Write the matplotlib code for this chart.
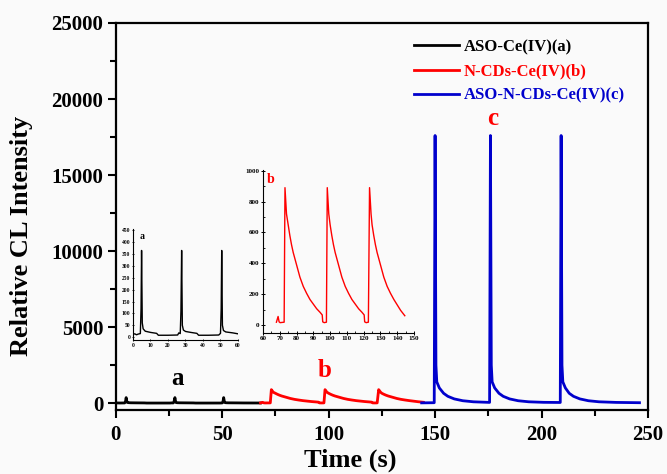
import numpy as np
import matplotlib.pyplot as plt

plt.rcParams['font.family'] = 'Liberation Serif'
plt.rcParams['font.weight'] = 'bold'

# ASO-Ce(IV) (a): time (s), intensity
t_a = [0, 1, 2, 3, 4.2, 4.6, 4.9, 5.3, 5.8, 7, 10, 13.5, 14.5, 20, 25.5, 26.2, 27.0,
       27.4, 27.8, 28.2, 28.8, 30, 33, 36.5, 37.5, 43, 49, 50.0, 50.4, 50.7, 51.1,
       51.7, 53, 57, 60, 65, 68]
i_a = [12, 14, 10, 13, 15, 120, 365, 60, 35, 25, 20, 16, 8, 8, 9, 18, 15,
       110, 365, 50, 30, 24, 20, 16, 8, 8, 9, 16, 120, 365, 50,
       28, 22, 18, 14, 12, 12]

# N-CDs-Ce(IV) (b)
t_b = [68, 69.0, 69.6, 70.2, 72.6, 73.1, 74.0, 75, 76, 77, 78, 80, 82, 84, 86, 88,
       90, 92, 94, 95.3, 95.6, 96.5, 97.8, 98.3, 99.2, 100, 101, 102, 103, 105, 107,
       109, 111, 113, 115, 117, 119, 120.3, 120.6, 121.5, 122.8, 123.5, 124.4, 125,
       126, 127, 128, 130, 132, 134, 136, 138, 140, 142, 144.5]
i_b = [18, 55, 20, 15, 18, 890, 720, 650, 580, 520, 470, 390, 310, 250, 205, 165,
       135, 105, 82, 65, 20, 15, 18, 890, 720, 650, 580, 520, 470, 390, 310,
       250, 205, 165, 135, 105, 82, 65, 20, 15, 18, 890, 720, 650,
       580, 520, 470, 390, 310, 250, 205, 165, 130, 95, 60]

# ASO-N-CDs-Ce(IV) (c)
t_c = [143.7, 149.6, 150.0, 150.4, 150.8, 152, 154, 156, 159, 163, 168, 175.6,
       176.0, 176.4, 176.8, 178, 180, 182, 185, 189, 194, 201, 208.8,
       209.2, 209.6, 210.0, 211.2, 213, 215, 218, 222, 227, 235, 246]
i_c = [20, 30, 17600, 2500, 1400, 1000, 650, 450, 280, 160, 90, 50,
       17600, 2500, 1400, 1000, 650, 450, 280, 160, 90, 55, 45,
       17600, 2500, 1400, 1000, 650, 450, 280, 160, 90, 50, 30]

labels = ['ASO-Ce(IV)(a)', 'N-CDs-Ce(IV)(b)', 'ASO-N-CDs-Ce(IV)(c)']
colors = ['black', '#ff0000', '#0000cc']

fig = plt.figure(figsize=(6.67, 4.74), dpi=100, facecolor='#fafafa')
ax = fig.add_axes([0.1735, 0.135, 0.798, 0.8165])
ax.set_facecolor('#fafafa')

ax.plot(t_a, i_a, color=colors[0], lw=2.0, label=labels[0])
ax.plot(t_b, i_b, color=colors[1], lw=2.0, label=labels[1])
ax.plot(t_c, i_c, color=colors[2], lw=2.0, label=labels[2])

ax.set_xlim(0, 250)
ax.set_ylim(-450, 25000)
ax.set_xticks(np.arange(0, 251, 50))
ax.set_xticks(np.arange(25, 250, 50), minor=True)
ax.set_yticks(np.arange(0, 25001, 5000))
ax.set_yticks(np.arange(2500, 25000, 5000), minor=True)
ax.tick_params(which='major', direction='out', length=6, width=1.5, labelsize=15, pad=3)
ax.tick_params(which='minor', direction='out', length=4, width=1.5)
ax.tick_params(axis='x', which='major', pad=5)
for lab in ax.get_xticklabels() + ax.get_yticklabels():
    lab.set_fontweight('bold')
for sp in ax.spines.values():
    sp.set_linewidth(1.6)

ax.set_xlabel('Time (s)', fontsize=19, fontweight='bold')
ax.set_ylabel('Relative CL Intensity', fontsize=19, fontweight='bold')
ax.xaxis.set_label_coords(0.44, -0.1)
ax.yaxis.set_label_coords(-0.155, 0.45)

leg = ax.legend(loc='upper right', bbox_to_anchor=(0.985, 0.997), frameon=False,
                prop={'size': 12, 'weight': 'bold'}, labelcolor='linecolor',
                handlelength=2.7, handletextpad=0.3, labelspacing=0.5)

ax.text(28.8, 1630, 'a', color='black', fontsize=18, fontweight='bold', ha='center', va='center')
ax.text(98, 2150, 'b', color='#ff0000', fontsize=18, fontweight='bold', ha='center', va='center')
ax.text(177, 18700, 'c', color='#ff0000', fontsize=18, fontweight='bold', ha='center', va='center')

# inset a
ia = fig.add_axes([0.1994, 0.2827, 0.1574, 0.234])
ia.patch.set_alpha(0)
ia.plot(t_a, i_a, color='black', lw=1.0)
ia.set_xlim(0, 60)
ia.set_ylim(-12, 455)
ia.set_xticks(np.arange(0, 61, 10))
ia.set_yticks(np.arange(0, 451, 50))
ia.tick_params(direction='inout', length=2, width=0.6, labelsize=4, pad=1)
ia.spines['top'].set_visible(False)
ia.spines['right'].set_visible(False)
ia.text(4, 425, 'a', fontsize=7, fontweight='bold', color='black', va='center')

# inset b
ib = fig.add_axes([0.3943, 0.2975, 0.2264, 0.344])
ib.patch.set_alpha(0)
ib.plot(t_b, i_b, color='#ff0000', lw=1.0)
ib.set_xlim(60, 150)
ib.set_ylim(-52, 1005)
ib.set_xticks(np.arange(60, 151, 10))
ib.set_xticks(np.arange(65, 150, 10), minor=True)
ib.set_yticks(np.arange(0, 1001, 200))
ib.set_yticks(np.arange(100, 1000, 200), minor=True)
ib.tick_params(which='major', direction='inout', length=3, width=0.7, labelsize=5, pad=1)
ib.tick_params(which='minor', direction='in', length=1.5, width=0.6)
ib.spines['top'].set_visible(False)
ib.spines['right'].set_visible(False)
ib.text(62, 940, 'b', fontsize=10, fontweight='bold', color='#ff0000', va='center')

plt.savefig('out.png', dpi=100, facecolor=fig.get_facecolor())
